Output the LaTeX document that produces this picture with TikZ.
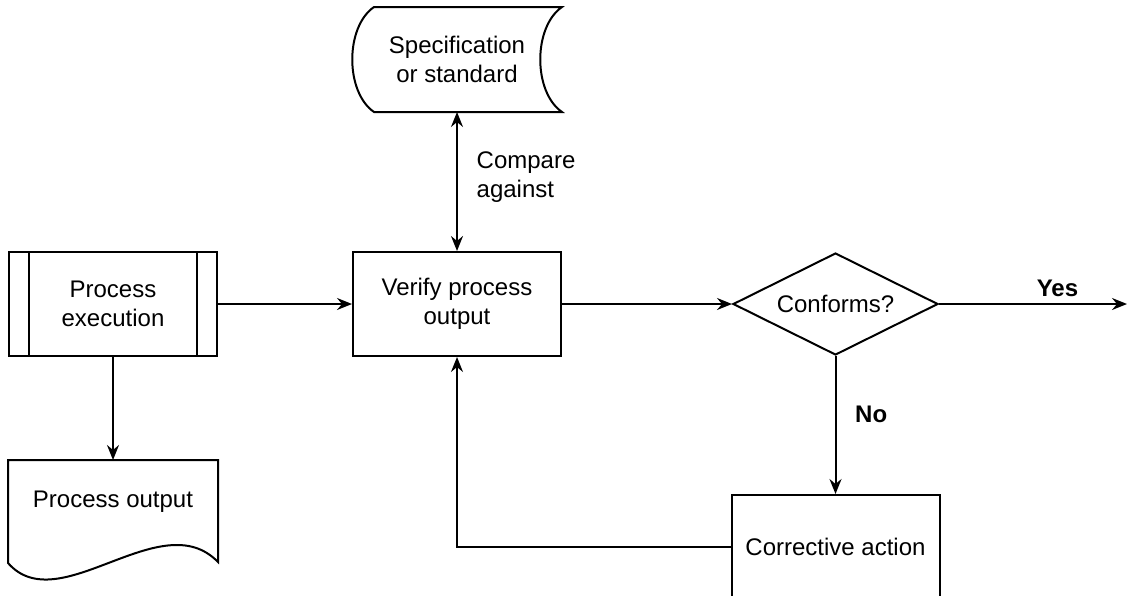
\documentclass[tikz,border=0pt]{standalone}
\usepackage{fontspec}
\setmainfont{Liberation Sans}
\usetikzlibrary{positioning, shapes.geometric, arrows.meta, calc}

\begin{document}
\begin{tikzpicture}[x=0.5pt, y=-0.5pt, line width=1pt,
    font=\fontsize{12}{14.5}\selectfont,
    >={Stealth[length=7.5pt, width=6pt, inset=2.5pt]},
    box/.style = {draw, minimum width=104pt, minimum height=52pt, align=center, inner sep=0pt},
    ghost/.style = {minimum width=104pt, align=center, inner sep=0pt},
    decision/.style = {draw, diamond, aspect=2, minimum width=102.5pt, minimum height=51pt, inner sep=0pt},
    tag/.style = {font=\fontsize{12}{14.5}\selectfont\bfseries}]

  \clip (0,0) rectangle (1128,595);

  % main row
  \node[box] (exec) at (113,304) {Process\\execution};
  \node[box] (verify) [right=67pt of exec] {Verify process\\output};
  \node[decision] (conform) [right=85pt of verify] {Conforms?};
  \node[box] (correct) [below=69pt of conform] {Corrective action};

  % shapes drawn round text nodes
  \node[ghost, minimum height=51.5pt] (spec) [above=69.5pt of verify] {Specification\\or standard};
  \node[ghost, minimum height=41pt] (doc) [below=51.5pt of exec] {Process output};
  \coordinate (out) at (1127,0);

  \draw ($(exec.north west)+(21,0)$) -- ($(exec.south west)+(21,0)$);
  \draw ($(exec.north east)+(-21,0)$) -- ($(exec.south east)+(-21,0)$);

  \draw ($(spec.north west)+(22,0)$) -- (spec.north east)
    .. controls +(-29,20) and +(-29,-20) .. (spec.south east)
    -- ($(spec.south west)+(22,0)$)
    .. controls +(-29,-20) and +(-29,20) .. ($(spec.north west)+(22,0)$) -- cycle;

  \draw (doc.north west) -- (doc.north east) -- ++(0,102)
    .. controls +(-57,-59) and +(51,58) .. ($(doc.north west)+(0,103)$) -- cycle;

  % connectors
  \draw[->] (exec) -- (verify);
  \draw[->] (exec) -- (doc);
  \draw[->] (verify) -- (conform);
  \draw[->] (conform.east) -- node[tag, pos=0.63, above] {Yes} (conform.east -| out);
  \draw[->] (conform) -- node[tag, pos=0.42, right=6pt] {No} (correct);
  \draw[->] (correct) -| (verify);
  \draw[<->] (spec) -- node[pos=0.47, right=6pt, align=left] {Compare\\against} (verify);

\end{tikzpicture}
\end{document}
